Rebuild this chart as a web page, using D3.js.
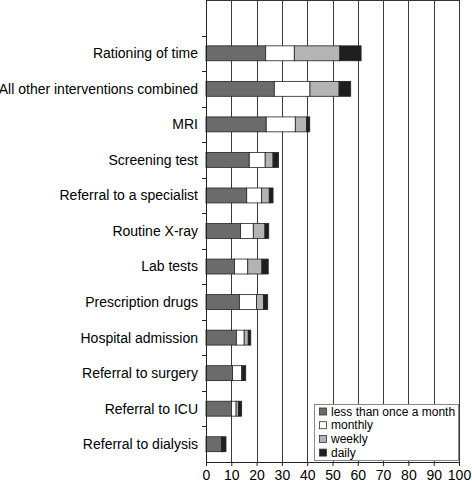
<!DOCTYPE html>
<html><head><meta charset="utf-8">
<script src="https://cdn.jsdelivr.net/npm/d3@7"></script>
<style>body{margin:0;background:#fff;} text{font-family:"Liberation Sans",Arial,sans-serif;}</style>
</head><body><svg id="c" width="472" height="486"></svg>
<script>
const categories = ["Rationing of time","All other interventions combined","MRI","Screening test","Referral to a specialist","Routine X-ray","Lab tests","Prescription drugs","Hospital admission","Referral to surgery","Referral to ICU","Referral to dialysis"];
const seriesNames = ["less than once a month","monthly","weekly","daily"];
const lessThanMonthly = [23.6,27.0,23.8,17.1,16.1,13.7,11.3,13.2,12.0,10.5,10.1,6.1];
const monthly =         [11.3,14.1,11.5, 6.3, 5.9, 5.0, 5.2, 6.8, 3.1, 3.6, 1.8,0.2];
const weekly =          [18.0,11.5, 4.5, 3.1, 3.0, 4.6, 5.6, 2.7, 1.6, 0.4, 0.9,0.3];
const daily =           [ 8.4, 4.6, 1.2, 2.2, 1.5, 1.5, 2.5, 1.7, 1.0, 1.2, 1.3,1.3];
const xTicks = [0,10,20,30,40,50,60,70,80,90,100];
const colors = ["#6b6b6b","#ffffff","#b4b4b4","#1e1e1e"];

(function(){
const svg = d3.select("#c");
const mL = 206, mR = 459, mT = 0, mB = 462;
const x = d3.scaleLinear().domain([0,100]).range([mL,mR]);
const slot = (mB-mT)/(categories.length+1);
const y = d3.scaleBand().domain(categories).range([mT+slot,mB]).paddingInner(0.58).paddingOuter(0.29);

const rows = categories.map((c,i)=>({cat:c, less:lessThanMonthly[i], monthly:monthly[i], weekly:weekly[i], daily:daily[i]}));
const stack = d3.stack().keys(["less","monthly","weekly","daily"])(rows);

svg.append("line").attr("x1",mL).attr("x2",mR).attr("y1",mT+0.5).attr("y2",mT+0.5).attr("stroke","#333");
svg.append("g").selectAll("line").data(xTicks.slice(1)).join("line")
  .attr("x1",d=>Math.round(x(d))+0.5).attr("x2",d=>Math.round(x(d))+0.5)
  .attr("y1",mT).attr("y2",mB).attr("stroke","#3a3a3a").attr("stroke-width",1);

const g = svg.append("g");
stack.forEach((s,k)=>{
  g.append("g").selectAll("rect").data(s).join("rect")
    .attr("x",d=>x(d[0])).attr("width",d=>Math.max(0,x(d[1])-x(d[0])))
    .attr("y",d=>y(d.data.cat)).attr("height",y.bandwidth())
    .attr("fill",colors[k]).attr("stroke","#222").attr("stroke-width",0.8);
});

svg.append("line").attr("x1",mL+0.5).attr("x2",mL+0.5).attr("y1",mT).attr("y2",mB).attr("stroke","#222");
const boundaries = d3.range(categories.length+1).map(i=>mT+slot*(i+1));
svg.append("g").selectAll("line").data(boundaries.slice(0,-1)).join("line")
  .attr("x1",mL-4).attr("x2",mL).attr("y1",d=>Math.round(d)+0.5).attr("y2",d=>Math.round(d)+0.5).attr("stroke","#222");
svg.append("g").selectAll("text").data(categories).join("text")
  .attr("x",mL-8).attr("y",d=>y(d)+y.bandwidth()/2).attr("dy","0.35em")
  .attr("text-anchor","end").attr("font-size",14).attr("fill","#000").text(d=>d);

const xa = svg.append("g").attr("transform",`translate(0,${mB})`)
  .call(d3.axisBottom(x).tickValues(xTicks).tickSize(4).tickPadding(4));
xa.select(".domain").attr("stroke","#222");
xa.selectAll(".tick line").attr("stroke","#222");
xa.selectAll("text").attr("font-size",14).attr("fill","#000").attr("font-family","'Liberation Sans',Arial,sans-serif");

const lg = svg.append("g");
lg.append("rect").attr("x",314.5).attr("y",404.5).attr("width",144).attr("height",56)
  .attr("fill","#fff").attr("stroke","#888");
seriesNames.forEach((n,i)=>{
  const yy = 411.5 + i*13.7;
  lg.append("rect").attr("x",319.5).attr("y",yy-3.5).attr("width",7).attr("height",7)
    .attr("fill",colors[i]).attr("stroke","#333").attr("stroke-width",0.8);
  lg.append("text").attr("x",331).attr("y",yy).attr("dy","0.35em").attr("font-size",12).attr("fill","#000").text(n);
});
})();
</script></body></html>
